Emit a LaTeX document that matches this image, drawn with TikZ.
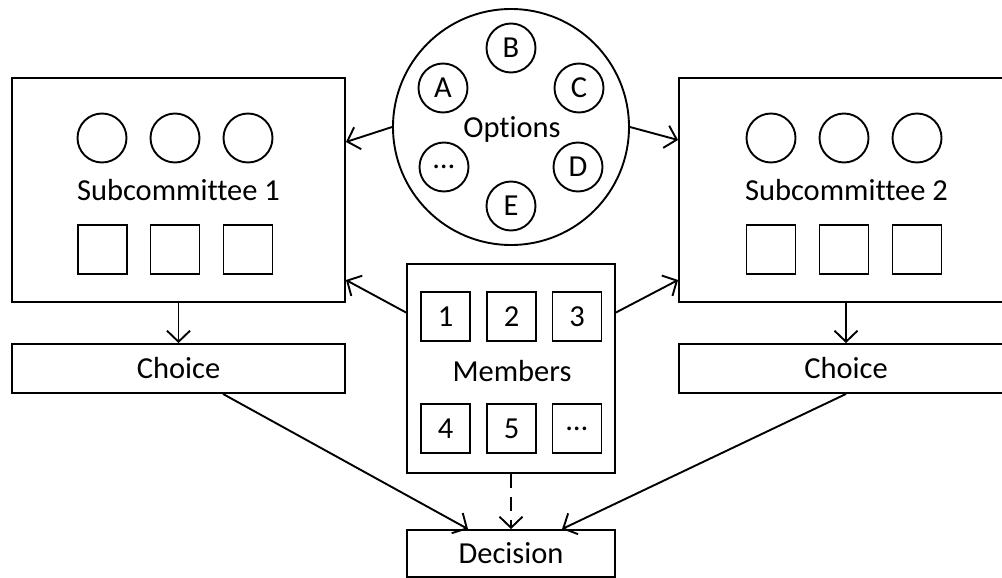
\documentclass[tikz,border=0pt]{standalone}
\usepackage{fontspec}
\setmainfont{Carlito}[RawFeature={-liga;-clig}]
\usetikzlibrary{arrows.meta,calc}

\tikzset{
  every node/.style={font=\fontsize{30.5}{36}\selectfont, inner sep=0pt},
  line/.style={line width=1.9pt},
  box/.style={draw, line width=1.9pt, rectangle},
  token/.style={draw, line width=1.9pt, circle, minimum size=49pt},
  seat/.style={draw, line width=1.9pt, rectangle, minimum width=49pt, minimum height=49pt},
  arr/.style={line width=1.9pt, -{Straight Barb[length=11pt,width=23pt,line width=1.9pt]}},
}

\begin{document}
\begin{tikzpicture}[x=1pt, y=-1pt]
  \useasboundingbox (0,0) rectangle (1002,578);
  \clip (0,0) rectangle (1002,578);

  % subcommittee 1
  \node[box, minimum width=333pt, minimum height=224pt] (sub1) at (178.5,190) {};
  \node (sub1t) at (178.5,190) {Subcommittee 1};
  \node[token] (s1c1) at (102,138) {};
  \node[token] (s1c2) at (175,138) {};
  \node[token] (s1c3) at (248,138) {};
  \node[seat] (s1s1) at (102.5,249.5) {};
  \node[seat] (s1s2) at (175,249.5) {};
  \node[seat] (s1s3) at (248,249.5) {};

  % subcommittee 2
  \node[box, minimum width=334pt, minimum height=224pt] (sub2) at (846,190) {};
  \node (sub2t) at (846.5,190) {Subcommittee 2};
  \node[token] (s2c1) at (771,138) {};
  \node[token] (s2c2) at (844,138) {};
  \node[token] (s2c3) at (917,138) {};
  \node[seat] (s2s1) at (771,249.5) {};
  \node[seat] (s2s2) at (844,249.5) {};
  \node[seat] (s2s3) at (917,249.5) {};

  % choices
  \node[box, minimum width=333pt, minimum height=49pt] (c1) at (178.5,368.5) {Choice};
  \node[box, minimum width=334pt, minimum height=49pt] (c2) at (846,368.5) {Choice};

  % options pool
  \node[draw, line width=1.9pt, circle, minimum size=236pt] (opt) at (511,127) {};
  \node (optt) at (512,129) {Options};
  \node[token] (oB) at (511,48) {B};
  \node[token] (oA) at (443,88) {A};
  \node[token] (oC) at (579,88) {C};
  \node[token] (oX) at (444,167) {…};
  \node[token] (oD) at (578,167) {D};
  \node[token] (oE) at (511,206) {E};

  % members
  \node[box, minimum width=208pt, minimum height=209pt] (mem) at (511,368.5) {};
  \node (memt) at (512,371) {Members};
  \node[seat] (m1) at (445.5,316.5) {1};
  \node[seat] (m2) at (511.5,316.5) {2};
  \node[seat] (m3) at (577,316.5) {3};
  \node[seat] (m4) at (445.5,428.5) {4};
  \node[seat] (m5) at (511.5,428.5) {5};
  \node[seat] (m6) at (577,428.5) {…};

  % decision
  \node[box, minimum width=208pt, minimum height=47pt] (dec) at (511,553.5) {Decision};

  % connectors
  \draw[arr] (opt.west) -- ([yshift=48pt]sub1.east);
  \draw[arr] (opt.east) -- ([yshift=50pt]sub2.west);
  \draw[arr] ([yshift=56pt]mem.west) -- ([yshift=-90pt]sub1.east);
  \draw[arr] ([yshift=56pt]mem.east) -- ([yshift=-90pt]sub2.west);
  \draw[arr] (sub1.south) -- (c1.north);
  \draw[arr] (sub2.south) -- (c2.north);
  \draw[arr] ([xshift=44.5pt]c1.south) -- ([xshift=-43pt]dec.north);
  \draw[arr] (c2.south) -- ([xshift=51pt]dec.north);
  \draw[arr, dash pattern=on 14pt off 9pt] (mem.south) -- (dec.north);
\end{tikzpicture}
\end{document}
